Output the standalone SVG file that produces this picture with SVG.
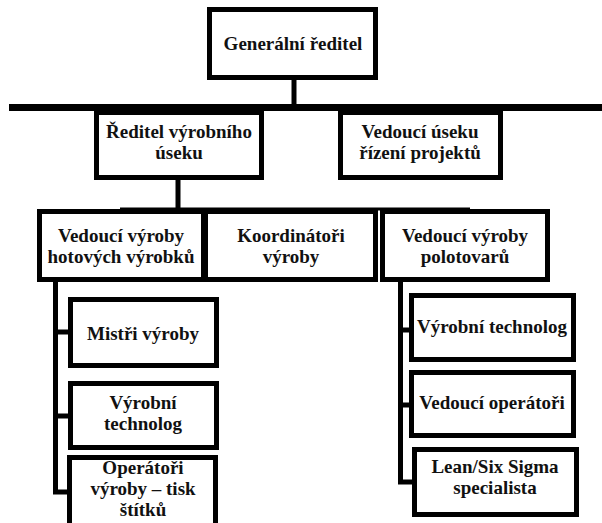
<svg xmlns="http://www.w3.org/2000/svg" width="602" height="523" viewBox="0 0 602 523">
<style>
.box{fill:#fff;stroke:#000;stroke-width:5}
.t{font-family:"Liberation Serif","Times New Roman",serif;font-weight:bold;font-size:19px;fill:#111;text-anchor:middle}
.c{fill:none;stroke:#000;stroke-width:5}
</style>
<rect width="602" height="523" fill="#fff"/>
<g id="connectors">
<line class="c" x1="294" y1="78" x2="294" y2="108"/>
<line class="c" x1="9" y1="107.5" x2="602" y2="107.5" style="stroke-width:7"/>
<line class="c" x1="178" y1="178" x2="178" y2="210"/>
<line class="c" x1="120" y1="209" x2="470" y2="209" style="stroke-width:3"/>
<path class="c" d="M55.5 280V492H70M55.5 332H70M55.5 416H70"/>
<path class="c" d="M400.5 280V482H414M400.5 330H411M400.5 405H411"/>
</g>
<g id="gen"><rect class="box" x="209.5" y="9.5" width="166" height="68"/><text class="t" x="293" y="50">Generální ředitel</text></g>
<g id="red"><rect class="box" x="96.5" y="112.5" width="165" height="65"/><text class="t" x="179" y="138">Ředitel výrobního</text><text class="t" x="179" y="159">úseku</text></g>
<g id="vus"><rect class="box" x="340.5" y="112.5" width="160" height="65"/><text class="t" x="420" y="138">Vedoucí úseku</text><text class="t" x="420" y="159">řízení projektů</text></g>
<g id="vvh"><rect class="box" x="39.5" y="211.5" width="164" height="68"/><text class="t" x="121" y="242">Vedoucí výroby</text><text class="t" x="121" y="263">hotových výrobků</text></g>
<g id="koo"><rect class="box" x="205.5" y="211.5" width="170" height="68"/><text class="t" x="291" y="242">Koordinátoři</text><text class="t" x="291" y="263">výroby</text></g>
<g id="vvp"><rect class="box" x="382.5" y="211.5" width="165" height="68"/><text class="t" x="465" y="242">Vedoucí výroby</text><text class="t" x="465" y="263">polotovarů</text></g>
<g id="mis"><rect class="box" x="70.5" y="299.5" width="146" height="66"/><text class="t" x="143" y="340">Mistři výroby</text></g>
<g id="vtl"><rect class="box" x="70.5" y="383.5" width="146" height="64"/><text class="t" x="143" y="409">Výrobní</text><text class="t" x="143" y="430">technolog</text></g>
<g id="ope"><rect class="box" x="69.5" y="457.5" width="146" height="72"/><text class="t" x="143" y="474">Operátoři</text><text class="t" x="143" y="495">výroby – tisk</text><text class="t" x="143" y="516">štítků</text></g>
<g id="vtr"><rect class="box" x="411.5" y="295.5" width="162" height="64"/><text class="t" x="492" y="333">Výrobní technolog</text></g>
<g id="vop"><rect class="box" x="411.5" y="372.5" width="162" height="63"/><text class="t" x="492" y="409">Vedoucí operátoři</text></g>
<g id="lean"><rect class="box" x="414.5" y="449.5" width="162" height="65"/><text class="t" x="495" y="473">Lean/Six Sigma</text><text class="t" x="495" y="494">specialista</text></g>
</svg>
